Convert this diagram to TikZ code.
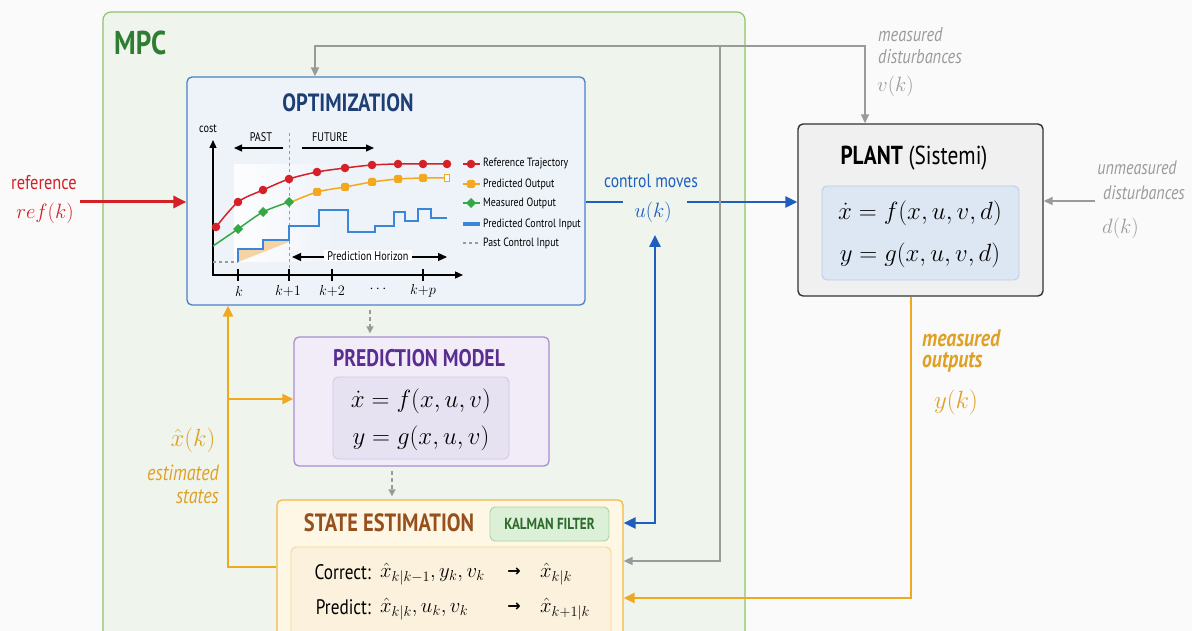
\documentclass[tikz,border=0pt]{standalone}
\usepackage{fontspec}
\setmainfont{PT Sans}
\newfontfamily\cf{PT Sans}[FakeStretch=0.82]
\newfontfamily\djs{DejaVu Sans}
\usetikzlibrary{arrows.meta,calc}
\newcommand\fz[1]{\fontsize{#1}{#1}\selectfont}
\definecolor{bgc}{HTML}{FAFAFA}
\definecolor{mpcfill}{HTML}{EFF5EC}
\definecolor{mpcline}{HTML}{8CC46A}
\definecolor{mpctext}{HTML}{2E7D32}
\definecolor{optfill}{HTML}{EEF3FA}
\definecolor{optline}{HTML}{4A80C8}
\definecolor{opttext}{HTML}{1E3F73}
\definecolor{pmfill}{HTML}{F1ECF8}
\definecolor{pmline}{HTML}{A88ED3}
\definecolor{pmtext}{HTML}{5A2D91}
\definecolor{pminner}{HTML}{E7E2F2}
\definecolor{pminline}{HTML}{CFC5E6}
\definecolor{sefill}{HTML}{FEF7E6}
\definecolor{seline}{HTML}{F2BA45}
\definecolor{setext}{HTML}{96501E}
\definecolor{seinner}{HTML}{FCF1DC}
\definecolor{seinline}{HTML}{F5D58A}
\definecolor{kffill}{HTML}{DCEFD7}
\definecolor{kfline}{HTML}{A8D59C}
\definecolor{kftext}{HTML}{2D6A2D}
\definecolor{plfill}{HTML}{F0F0F0}
\definecolor{plline}{HTML}{333333}
\definecolor{plinner}{HTML}{DDE7F4}
\definecolor{plinline}{HTML}{B9CDE8}
\definecolor{cred}{HTML}{D42027}
\definecolor{cblue}{HTML}{1F5DBF}
\definecolor{cstep}{HTML}{3A86D8}
\definecolor{corange}{HTML}{F0A91E}
\definecolor{ctorange}{HTML}{E0A024}
\definecolor{cgrey}{HTML}{9A9A9A}
\definecolor{cgreen}{HTML}{35A845}
\definecolor{cmark}{HTML}{F3A81E}
\definecolor{shadeor}{HTML}{F6D3A5}
\begin{document}
\begin{tikzpicture}[x=1pt,y=-1pt,
  box/.style={draw, rounded corners=5pt, line width=1.3pt, inner sep=0pt},
  ttl/.style={font=\cf\bfseries\fz{25}},
  redtip/.style={-{Triangle[length=13pt,width=12pt]}},
  bluetip/.style={-{Triangle[length=12pt,width=11pt]}},
  ortip/.style={-{Triangle[length=11pt,width=10pt]}},
  greytip/.style={-{Triangle[length=9pt,width=8pt]}},
  redln/.style={cred, line width=3pt},
  blueln/.style={cblue, line width=2.6pt},
  orln/.style={corange, line width=2.4pt},
  greyln/.style={cgrey, line width=1.8pt},
  lbl/.style={inner sep=0pt},
  leg/.style={inner sep=0pt, anchor=west, font=\cf\fz{12}},
  axtip/.style={-{Triangle[length=8pt,width=7pt]}},
]
\clip (0,0) rectangle (1192,631);
\path[use as bounding box] (0,0) rectangle (1192,631);
\fill[bgc] (0,0) rectangle (1192,631);

% MPC frame
\node[box, draw=mpcline, fill=mpcfill, rounded corners=8pt, line width=1.2pt,
      minimum width=642pt, minimum height=640pt] (mpc) at (424,332) {};
\node[lbl, anchor=west, font=\cf\bfseries\fz{33}, text=mpctext] (mpclbl) at (114,43) {MPC};

% Optimization
\node[box, draw=optline, fill=optfill, minimum width=398pt, minimum height=228pt] (opt) at (386,191) {};
\node[lbl, ttl, text=opttext] (optttl) at (348,103) {OPTIMIZATION};

% Prediction model
\node[box, draw=pmline, fill=pmfill, minimum width=255pt, minimum height=129pt] (pm) at (421.5,401.5) {};
\node[lbl, ttl, text=pmtext, font=\cf\bfseries\fz{24}] (pmttl) at (419,358) {PREDICTION MODEL};
\node[box, draw=pminline, fill=pminner, line width=0.8pt, minimum width=176pt, minimum height=82pt] (pmin) at (421,418) {};
\node[lbl, font=\fz{23.5}] (pmeq1) at (421,401) {$\dot{x} = f(x,u,v)$};
\node[lbl, font=\fz{23.5}] (pmeq2) at (421,438) {$y = g(x,u,v)$};

% State estimation
\node[box, draw=seline, fill=sefill, minimum width=346pt, minimum height=160pt] (se) at (450,580) {};
\node[lbl, ttl, text=setext] (settl) at (389,523) {STATE ESTIMATION};
\node[box, draw=kfline, fill=kffill, line width=0.9pt, minimum width=119pt, minimum height=34pt,
      font=\cf\bfseries\fz{16}, text=kftext] (kf) at (549.5,524) {KALMAN FILTER};
\node[box, draw=seinline, fill=seinner, line width=0.9pt, minimum width=320pt, minimum height=113pt] (sein) at (451,603.5) {};
\node[lbl, anchor=east, font=\cf\fz{21}] (corl) at (371,572) {Correct:};
\node[lbl, anchor=west, font=\fz{21}] (corm) at (380,574) {$\hat{x}_{k|k-1}, y_k, v_k$};
\node[lbl, font=\djs\bfseries\fz{16}] (cora) at (514,572) {→};
\node[lbl, anchor=west, font=\fz{21}] (corr) at (540,574) {$\hat{x}_{k|k}$};
\node[lbl, anchor=east, font=\cf\fz{21}] (prel) at (371,607) {Predict:};
\node[lbl, anchor=west, font=\fz{21}] (prem) at (380,609) {$\hat{x}_{k|k}, u_k, v_k$};
\node[lbl, font=\djs\bfseries\fz{16}] (prea) at (514,607) {→};
\node[lbl, anchor=west, font=\fz{21}] (prer) at (540,609) {$\hat{x}_{k+1|k}$};

% Plant
\node[box, draw=plline, fill=plfill, line width=1.4pt, minimum width=245pt, minimum height=172pt] (plant) at (920.5,210) {};
\node[lbl, font=\cf\fz{26}] (plttl) at (914,158) {\textbf{PLANT} (Sistemi)};
\node[box, draw=plinline, fill=plinner, line width=0.9pt, minimum width=197pt, minimum height=94pt] (plin) at (920.5,233) {};
\node[lbl, font=\fz{23.5}] (pleq1) at (920,213) {$\dot{x} = f(x,u,v,d)$};
\node[lbl, font=\fz{23.5}] (pleq2) at (920,255) {$y = g(x,u,v,d)$};

% ---------- chart ----------
\shade[left color=white, right color=optfill, opacity=0.9] (234,165) rectangle (340,262);
\fill[shadeor] (238,262) -- (238,249) -- (263,249) -- (263,240) -- (289,240) -- (289,242) -- cycle;
\draw[cgrey, dashed, line width=1pt] (289,133) -- (289,275);
\draw[axtip, line width=1.3pt] (213,276) -- (213,140);
\draw[axtip, line width=1.3pt] (212,275) -- (463,275);
\foreach \tx in {238,289,332,423} \draw[line width=1.2pt] (\tx,269) -- (\tx,281);
\node[lbl, font=\fz{15}] (tk0) at (239,291) {$k$};
\node[lbl, font=\fz{15}] (tk1) at (288,291) {$k{+}1$};
\node[lbl, font=\fz{15}] (tk2) at (332,291) {$k{+}2$};
\node[lbl, font=\fz{15}] (tk3) at (378,289) {$\cdots$};
\node[lbl, font=\fz{15}] (tk4) at (423,291) {$k{+}p$};
\node[lbl, font=\cf\fz{12.5}] (costl) at (208,129) {cost};
\node[lbl, font=\cf\fz{12.5}] (pastl) at (261,137) {PAST};
\node[lbl, font=\cf\fz{12.5}] (futl) at (330,137) {FUTURE};
\draw[axtip, line width=1.1pt] (283,148) -- (234,148);
\draw[axtip, line width=1.1pt] (302,148) -- (374,148);
% control input
\draw[cgrey, dashed, line width=1.3pt] (213,262) -- (238,262);
\draw[cstep, line width=1.6pt] (238,262) -- (238,249) -- (263,249) -- (263,240) -- (289,240) -- (289,226) -- (319,226)
  -- (319,210) -- (348,210) -- (348,232) -- (375,232) -- (375,226) -- (394,226) -- (394,212) -- (405,212)
  -- (405,221) -- (418,221) -- (418,209) -- (431,209) -- (431,218) -- (447,218);
% curves
\draw[cred, line width=1.5pt] plot[smooth] coordinates {(216,227) (238,202) (263,190) (289,179) (317,172) (345,168) (372,165) (398,164) (423,164) (447,164)};
\foreach \p in {(216,227),(238,202),(263,190),(289,179),(317,172),(345,168),(372,165),(398,164),(423,164),(447,164)}
  \fill[cred] \p circle[radius=4.3pt];
\draw[cmark, line width=1.5pt] plot[smooth] coordinates {(289,203) (317,192) (345,187) (372,182) (398,179) (423,178) (447,178)};
\foreach \p in {(317,192),(345,187),(372,182),(398,179),(423,178)}
  \fill[cmark, rounded corners=1.5pt] \p ++(-4,-4) rectangle ++(8,8);
\draw[cmark, fill=white, line width=1pt] (444.5,174.5) rectangle (449.5,181.5);
\draw[cgreen, line width=1.5pt] plot[smooth] coordinates {(213,246) (238,229) (263,212) (289,202)};
\foreach \p in {(238,229),(263,212),(289,202)}
  \fill[cgreen] \p ++(-5,0) -- ++(5,-5) -- ++(5,5) -- ++(-5,5) -- cycle;
% horizon
\draw[{Triangle[length=9pt,width=8pt]}-{Triangle[length=9pt,width=8pt]}, line width=1.3pt] (292,257) -- (447,257);
\node[lbl, fill=white, inner xsep=3pt, inner ysep=1pt, font=\cf\fz{12.5}] (horl) at (368,256) {Prediction Horizon};
% legend
\draw[cred, line width=1.5pt] (463,164) -- (480,164); \fill[cred] (471,164) circle[radius=4.3pt];
\node[leg] (lg1) at (483,164) {Reference Trajectory};
\draw[cmark, line width=1.5pt] (463,184) -- (480,184); \fill[cmark, rounded corners=1.5pt] (467,180) rectangle (475,188);
\node[leg] (lg2) at (483,184) {Predicted Output};
\draw[cgreen, line width=1.5pt] (463,203) -- (480,203); \fill[cgreen] (466,203) -- (471,198) -- (476,203) -- (471,208) -- cycle;
\node[leg] (lg3) at (483,203) {Measured Output};
\draw[cstep, line width=4pt] (463,224) -- (480,224);
\node[leg] (lg4) at (483,224) {Predicted Control Input};
\draw[cgrey, dashed, line width=1.5pt] (463,243) -- (480,243);
\node[leg] (lg5) at (483,243) {Past Control Input};

% ---------- labels ----------
\node[lbl, font=\cf\fz{20}, text=cred] (refl) at (44,183) {reference};
\node[lbl, font=\fz{20.5}, text=cred] (refk) at (45,213) {$ref(k)$};
\node[lbl, font=\cf\fz{19}, text=cblue] (cml) at (651,181) {control moves};
\node[lbl, font=\fz{22}, text=cblue] (uk) at (653,212) {$u(k)$};
\node[lbl, anchor=west, font=\cf\itshape\fz{20}, text=cgrey] (md1) at (878,35) {measured};
\node[lbl, anchor=west, font=\cf\itshape\fz{20}, text=cgrey] (md2) at (878,57) {disturbances};
\node[lbl, anchor=west, font=\fz{22}, text=cgrey] (vk) at (877,86) {$v(k)$};
\node[lbl, font=\cf\itshape\fz{19.5}, text=cgrey] (ud1) at (1137,168) {unmeasured};
\node[lbl, font=\cf\itshape\fz{19.5}, text=cgrey] (ud2) at (1144,193) {disturbances};
\node[lbl, anchor=west, font=\fz{22}, text=cgrey] (dk) at (1102,228) {$d(k)$};
\node[lbl, anchor=west, font=\cf\itshape\bfseries\fz{24}, text=ctorange] (mo1) at (922,338) {measured};
\node[lbl, anchor=west, font=\cf\itshape\bfseries\fz{24}, text=ctorange] (mo2) at (922,362) {outputs};
\node[lbl, font=\fz{27}, text=ctorange] (yk) at (956,402) {$y(k)$};
\node[lbl, font=\fz{23}, text=ctorange] (xhk) at (193,440) {$\hat{x}(k)$};
\node[lbl, anchor=east, font=\cf\itshape\fz{22}, text=ctorange] (es1) at (219,473) {estimated};
\node[lbl, anchor=east, font=\cf\itshape\fz{22}, text=ctorange] (es2) at (219,497) {states};

% ---------- connectors ----------
\coordinate (refs) at (80,202);
\draw[redln, redtip] (refs) -- (opt.west |- refs);
\coordinate (cu) at (623,202);
\coordinate (cv) at (687,202);
\draw[blueln] (opt.east |- cu) -- (cu);
\draw[blueln, bluetip] (cv) -- (plant.west |- cv);
\coordinate (bc) at (655,523);
\coordinate (bt) at (655,235);
\draw[blueln, {Triangle[length=12pt,width=11pt]}-{Triangle[length=12pt,width=11pt]}] (se.east |- bc) -- (bc) -- (bt);
% measured disturbances
\coordinate (gl) at (315,46);
\coordinate (gr) at (865,46);
\coordinate (gm) at (720,46);
\coordinate (gmd) at (720,561);
\draw[greyln, greytip] (gr) -- (gl) -- (opt.north -| gl);
\draw[greyln, greytip] (gl) -- (gr) -- (plant.north -| gr);
\draw[greyln, greytip] (gm) -- (gmd) -- (se.east |- gmd);
\coordinate (uds) at (1095,201);
\draw[greyln, greytip] (uds) -- (plant.east |- uds);
% measured outputs
\coordinate (mo) at (911,598);
\draw[orln, ortip] (plant.south -| mo) -- (mo) -- (se.east |- mo);
% estimated states
\coordinate (esb) at (228,567);
\coordinate (esj) at (228,399);
\draw[orln, ortip] (se.west |- esb) -- (esb) -- (opt.south -| esb);
\draw[orln, ortip] (esj) -- (pm.west |- esj);
% internal dashed
\coordinate (d1) at (370,0);
\coordinate (d2) at (392,0);
\draw[cgrey, line width=1.6pt, dashed, dash pattern=on 4pt off 3pt, -{Triangle[length=7pt,width=7pt]}] (opt.south -| d1) ++(0,4) -- ($(pm.north -| d1)+(0,-3)$);
\draw[cgrey, line width=1.6pt, dashed, dash pattern=on 4pt off 3pt, -{Triangle[length=7pt,width=7pt]}] (pm.south -| d2) ++(0,4) -- ($(se.north -| d2)+(0,-3)$);
\end{tikzpicture}
\end{document}
